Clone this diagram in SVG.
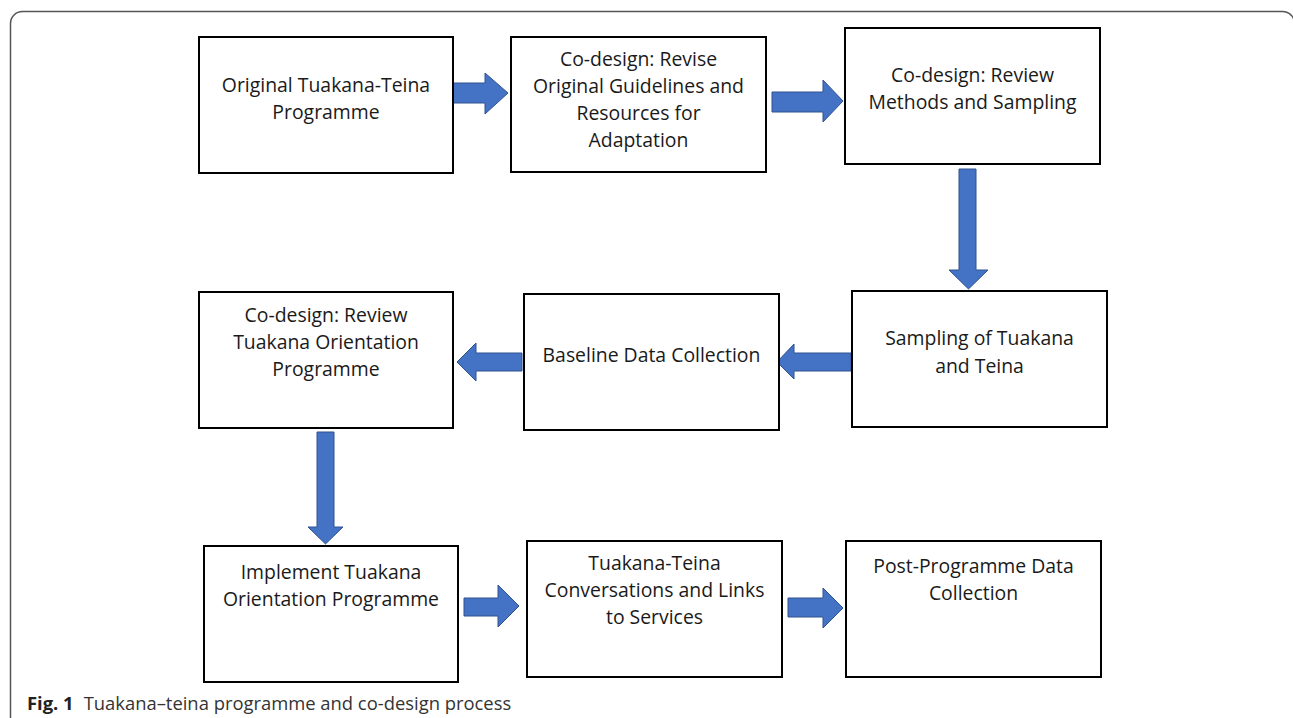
<svg xmlns="http://www.w3.org/2000/svg" width="1293" height="718" viewBox="0 0 1293 718">
<style>
.box{fill:#fff;stroke:#000;stroke-width:2}
.t{font-family:"Open Sans","Noto Sans",sans-serif;font-size:19.4px;fill:#1a1a1a;text-anchor:middle}
.arr{fill:#4472C4;stroke:#2F528F;stroke-width:1}
.cap{font-family:"Open Sans","Noto Sans",sans-serif;font-size:18.4px;fill:#333}
</style>
<rect width="1293" height="718" fill="#fff"/>
<path d="M10.5,740 V23.5 A12,12 0 0 1 22.5,11.5 H1282 A12,12 0 0 1 1294,20" fill="none" stroke="#555" stroke-width="1.5"/>
<g id="connectors">
<polygon class="arr" points="453,83 485,83 485,73 508,93 485,114 485,103 453,103"/>
<polygon class="arr" points="772,92 823,92 823,80 843,101 823,122 823,112 772,112"/>
<polygon class="arr" points="959,169 976,169 976,270 988,270 968.5,289 949,270 959,270"/>
<polygon class="arr" points="851,353 794,353 794,344 777,362 794,379 794,371 851,371"/>
<polygon class="arr" points="522,353 476,353 476,343 457,362 476,381 476,371 522,371"/>
<polygon class="arr" points="317,432 334,432 334,527 343,527 325.5,544 308,527 317,527"/>
<polygon class="arr" points="464,598 498,598 498,585 519,606 498,627 498,616 464,616"/>
<polygon class="arr" points="788,598 823,598 823,588 843,608 823,628 823,617 788,617"/>
</g>
<g id="n1"><rect class="box" x="199" y="37" width="254" height="136"/>
<text class="t" x="326" y="92"><tspan x="326">Original Tuakana-Teina</tspan><tspan x="326" dy="27">Programme</tspan></text></g>
<g id="n2"><rect class="box" x="511" y="37" width="255" height="135"/>
<text class="t" x="638.5" y="66"><tspan x="638.5">Co-design: Revise</tspan><tspan x="638.5" dy="27">Original Guidelines and</tspan><tspan x="638.5" dy="27">Resources for</tspan><tspan x="638.5" dy="27">Adaptation</tspan></text></g>
<g id="n3"><rect class="box" x="845" y="28" width="255" height="136"/>
<text class="t" x="972.5" y="82"><tspan x="972.5">Co-design: Review</tspan><tspan x="972.5" dy="27">Methods and Sampling</tspan></text></g>
<g id="n4"><rect class="box" x="852" y="291" width="255" height="136"/>
<text class="t" x="979.5" y="345"><tspan x="979.5">Sampling of Tuakana</tspan><tspan x="979.5" dy="28">and Teina</tspan></text></g>
<g id="n5"><rect class="box" x="524" y="294" width="255" height="136"/>
<text class="t" x="651.5" y="362">Baseline Data Collection</text></g>
<g id="n6"><rect class="box" x="199" y="292" width="254" height="136"/>
<text class="t" x="326" y="322"><tspan x="326">Co-design: Review</tspan><tspan x="326" dy="27">Tuakana Orientation</tspan><tspan x="326" dy="27">Programme</tspan></text></g>
<g id="n7"><rect class="box" x="204" y="546" width="254" height="136"/>
<text class="t" x="331" y="579"><tspan x="331">Implement Tuakana</tspan><tspan x="331" dy="27">Orientation Programme</tspan></text></g>
<g id="n8"><rect class="box" x="527" y="541" width="255" height="136"/>
<text class="t" x="654.5" y="570"><tspan x="654.5">Tuakana-Teina</tspan><tspan x="654.5" dy="27">Conversations and Links</tspan><tspan x="654.5" dy="27">to Services</tspan></text></g>
<g id="n9"><rect class="box" x="846" y="541" width="255" height="136"/>
<text class="t" x="973.5" y="573"><tspan x="973.5">Post-Programme Data</tspan><tspan x="973.5" dy="27">Collection</tspan></text></g>
<text class="cap" x="27" y="710"><tspan font-weight="bold" fill="#222">Fig. 1</tspan><tspan dx="10">Tuakana–teina programme and co-design process</tspan></text>
</svg>
